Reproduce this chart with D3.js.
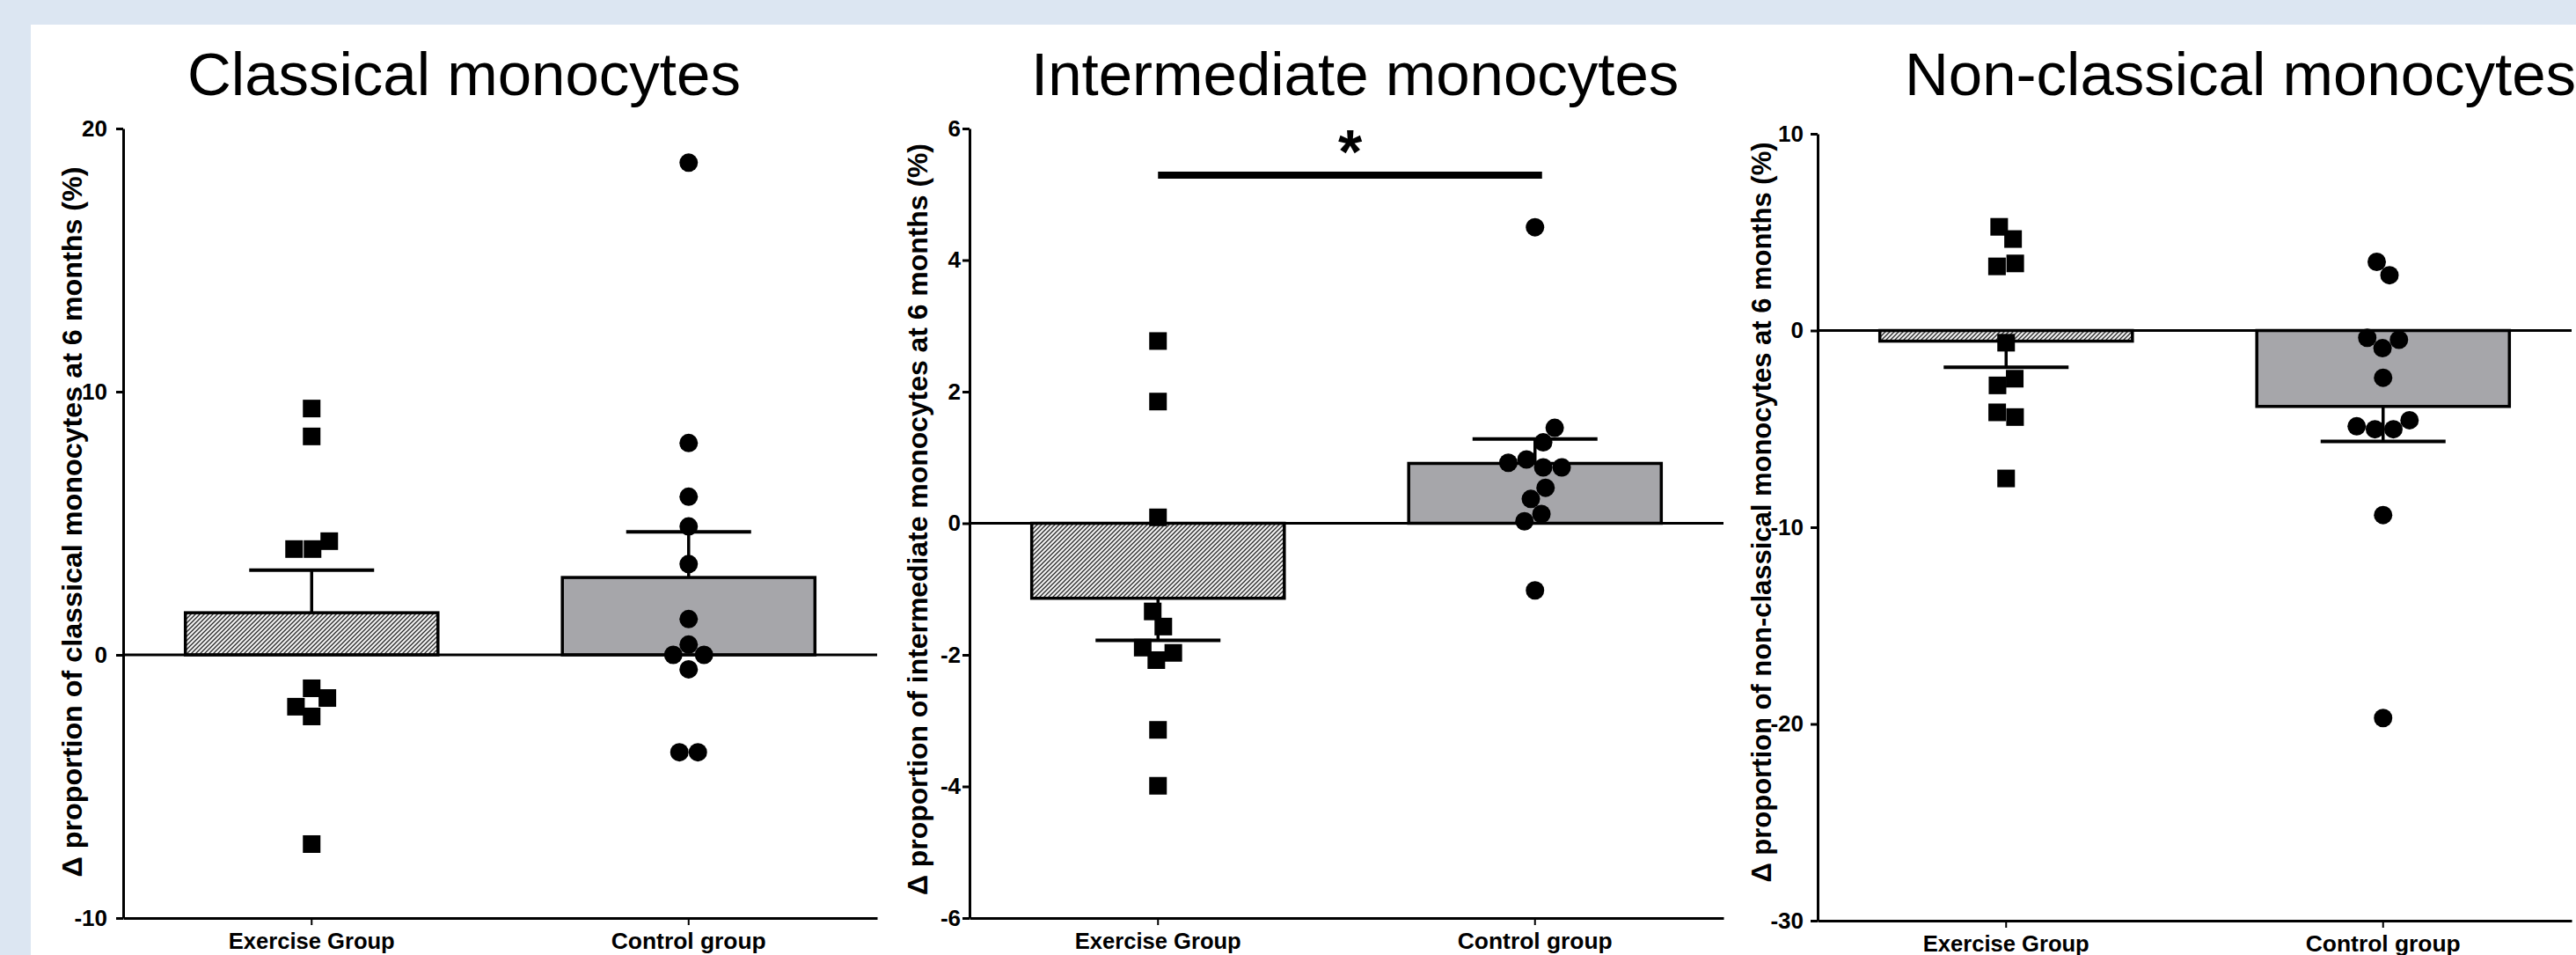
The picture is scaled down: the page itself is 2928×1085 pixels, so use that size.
<!DOCTYPE html>
<html><head><meta charset="utf-8">
<script src="https://cdn.jsdelivr.net/npm/d3@7"></script>
<style>html,body{margin:0;padding:0;background:#dce6f2;overflow:hidden} svg{display:block}</style>
</head><body>
<svg id="chart" width="2928" height="1085"></svg>
<script>
// ---------------- data ----------------
const categories = ["Exercise Group", "Control group"];
const panelTitles = ["Classical monocytes", "Intermediate monocytes", "Non-classical monocytes"];
const yAxisTitles = [
  "Δ proportion of classical monocytes at 6 months (%)",
  "Δ proportion of intermediate monocytes at 6 months (%)",
  "Δ proportion of non-classical monocytes at 6 months (%)"
];
const classicalTicks = [20, 10, 0, -10];
const intermediateTicks = [6, 4, 2, 0, -2, -4, -6];
const nonClassicalTicks = [10, 0, -10, -20, -30];

const classicalExercise = [9.36, 8.30, 4.02, 4.32, 4.02, -1.27, -2.34, -1.64, -1.97, -7.19];
const classicalControl = [18.7, 8.05, 6.01, 4.88, 3.45, 1.36, 0.39, -0.55, 0, 0, -3.7, -3.7];
const intermediateExercise = [2.77, 1.85, 0.09, -1.34, -1.57, -2.08, -1.97, -1.89, -3.14, -3.99];
const intermediateControl = [4.5, 0.85, 0.85, 0.97, 0.92, 1.23, 1.45, 0.37, 0.54, 0.14, 0.03, -1.02];
const nonClassicalExercise = [5.27, 4.65, 3.26, 3.41, -0.62, -2.79, -2.45, -4.16, -4.40, -7.52];
const nonClassicalControl = [3.49, 2.81, -0.90, -0.47, -0.37, -2.40, -5.02, -5.02, -4.87, -4.56, -9.38, -19.7];

const classicalMeans = [1.6, 2.94];
const classicalSem = [1.62, 1.73];
const intermediateMeans = [-1.14, 0.91];
const intermediateSem = [0.64, 0.37];
const nonClassicalMeans = [-0.54, -3.86];
const nonClassicalSem = [1.33, 1.78];

const significanceLevel = 5.29;   // y value of the comparison bar (intermediate panel)
const significanceLabel = "*";

// ---------------- layout ----------------
const W = 2928, H = 1085;
const panels = [
  {title: panelTitles[0], ylabel: yAxisTitles[0], ticks: classicalTicks, domain: [-10, 20],
   groups: [classicalExercise, classicalControl], means: classicalMeans, sem: classicalSem,
   x0: 140, top: 146, bottom: 1043, titleX: 213, labX: 93, labY: 593, labLen: 807, tickGap: 18},
  {title: panelTitles[1], ylabel: yAxisTitles[1], ticks: intermediateTicks, domain: [-6, 6],
   groups: [intermediateExercise, intermediateControl], means: intermediateMeans, sem: intermediateSem,
   x0: 1102, top: 146, bottom: 1043, titleX: 1172, labX: 1054, labY: 590, labLen: 854, tickGap: 10, sig: true},
  {title: panelTitles[2], ylabel: yAxisTitles[2], ticks: nonClassicalTicks, domain: [-30, 10],
   groups: [nonClassicalExercise, nonClassicalControl], means: nonClassicalMeans, sem: nonClassicalSem,
   x0: 2066, top: 152, bottom: 1046, titleX: 2165, labX: 2013, labY: 582, labLen: 841, tickGap: 16}
];
const plotW = 857;
const MARK = 20, D = 21;
const narrow = "'Liberation Sans Narrow','Arial Narrow','Liberation Sans',Arial,sans-serif";
const sans = "'Liberation Sans',Arial,sans-serif";

const svg = d3.select("#chart");
const defs = svg.append("defs");
const pat = defs.append("pattern").attr("id", "hatch").attr("patternUnits", "userSpaceOnUse")
  .attr("width", 5).attr("height", 5);
pat.append("rect").attr("width", 5).attr("height", 5).attr("fill", "#f2f2f2");
pat.append("path").attr("d", "M-1,1 l2,-2 M0,5 l5,-5 M4,6 l2,-2")
  .attr("stroke", "#2a2a2a").attr("stroke-width", 1.3);

svg.append("rect").attr("width", W).attr("height", H).attr("fill", "#dce6f2");
svg.append("rect").attr("x", 35).attr("y", 28).attr("width", W - 35).attr("height", H - 28).attr("fill", "#fff");

function swarm(values, y) {
  const placed = [];
  values.forEach(v => {
    const py = y(v);
    const near = placed.filter(p => Math.abs(p.y - py) < D);
    const cands = [0];
    near.forEach(p => {
      const dx = Math.sqrt(D * D - (p.y - py) ** 2);
      cands.push(p.x + dx, p.x - dx);
    });
    cands.sort((a, b) => (Math.abs(a) - Math.abs(b)) || (b - a));
    const x = cands.find(c => near.every(p => (p.x - c) ** 2 + (p.y - py) ** 2 >= D * D - 0.01));
    placed.push({v, y: py, x});
  });
  const sorted = placed.slice().sort((a, b) => a.y - b.y);
  const clusters = [];
  let cl = [];
  sorted.forEach((p, i) => {
    if (i > 0 && p.y - sorted[i - 1].y >= D) { clusters.push(cl); cl = []; }
    cl.push(p);
  });
  clusters.push(cl);
  clusters.forEach(c => {
    const s = (d3.min(c, p => p.x) + d3.max(c, p => p.x)) / 2;
    c.forEach(p => p.x -= s);
  });
  return placed;
}

panels.forEach((P, pi) => {
  const g = svg.append("g");
  const x = d3.scaleBand().domain(categories).range([P.x0, P.x0 + plotW])
    .paddingInner(0.33).paddingOuter(0.165);
  const y = d3.scaleLinear().domain(P.domain).range([P.bottom, P.top]);
  const cx = c => x(c) + x.bandwidth() / 2;

  // title
  g.append("text").attr("x", P.titleX).attr("y", 108).text(P.title)
    .attr("font-family", sans).attr("font-size", 69).attr("fill", "#000");

  // y-axis title
  g.append("text").attr("transform", `translate(${P.labX},${P.labY}) rotate(-90)`)
    .attr("text-anchor", "middle").attr("font-family", sans).attr("font-weight", "bold")
    .attr("font-size", 31).attr("textLength", P.labLen).attr("lengthAdjust", "spacingAndGlyphs")
    .attr("fill", "#000").text(P.ylabel);

  // bars
  categories.forEach((c, i) => {
    const m = P.means[i];
    g.append("rect").attr("x", x(c)).attr("width", x.bandwidth())
      .attr("y", y(Math.max(0, m))).attr("height", Math.abs(y(m) - y(0)))
      .attr("fill", i === 0 ? "url(#hatch)" : "#a6a6aa")
      .attr("stroke", "#000").attr("stroke-width", 3.5);
  });

  // zero line
  g.append("line").attr("x1", P.x0).attr("x2", P.x0 + plotW).attr("y1", y(0)).attr("y2", y(0))
    .attr("stroke", "#000").attr("stroke-width", 3.2);

  // error bars (one-sided, away from zero)
  categories.forEach((c, i) => {
    const m = P.means[i], e = m >= 0 ? m + P.sem[i] : m - P.sem[i];
    const xc = cx(c);
    g.append("line").attr("x1", xc).attr("x2", xc).attr("y1", y(m)).attr("y2", y(e))
      .attr("stroke", "#000").attr("stroke-width", 3.5);
    g.append("line").attr("x1", xc - 71).attr("x2", xc + 71).attr("y1", y(e)).attr("y2", y(e))
      .attr("stroke", "#000").attr("stroke-width", 4);
  });

  // points
  categories.forEach((c, i) => {
    const pts = swarm(P.groups[i], y);
    const xc = cx(c);
    if (i === 0) {
      g.selectAll(null).data(pts).enter().append("rect")
        .attr("x", d => xc + d.x - MARK / 2).attr("y", d => d.y - MARK / 2)
        .attr("width", MARK).attr("height", MARK).attr("fill", "#000");
    } else {
      g.selectAll(null).data(pts).enter().append("circle")
        .attr("cx", d => xc + d.x).attr("cy", d => d.y).attr("r", MARK / 2 + 0.5).attr("fill", "#000");
    }
  });

  // y axis
  const ya = g.append("g").attr("transform", `translate(${P.x0},0)`)
    .call(d3.axisLeft(y).tickValues(P.ticks).tickSize(8).tickSizeOuter(0)
      .tickPadding(P.tickGap - 8).tickFormat(d => String(d)));
  ya.select(".domain").attr("stroke", "#000").attr("stroke-width", 3);
  ya.selectAll(".tick line").attr("stroke", "#000").attr("stroke-width", 3);
  ya.selectAll(".tick text").attr("font-family", narrow).attr("font-weight", "bold")
    .attr("font-size", 26).attr("fill", "#000");

  // x axis
  const xa = g.append("g").attr("transform", `translate(0,${P.bottom})`)
    .call(d3.axisBottom(x).tickSize(8).tickSizeOuter(0).tickPadding(9));
  xa.select(".domain").attr("stroke", "#000").attr("stroke-width", 3);
  xa.selectAll(".tick line").attr("stroke", "#000").attr("stroke-width", 2);
  xa.selectAll(".tick text").attr("font-family", narrow).attr("font-weight", "bold")
    .attr("font-size", 25).attr("fill", "#000")
    .attr("textLength", (d, i) => i === 0 ? 189 : 176).attr("lengthAdjust", "spacingAndGlyphs");

  // significance
  if (P.sig) {
    const sy = y(significanceLevel);
    const xa1 = cx(categories[0]), xb1 = cx(categories[1]);
    g.append("line").attr("x1", xa1).attr("x2", xb1 + 8).attr("y1", sy).attr("y2", sy)
      .attr("stroke", "#000").attr("stroke-width", 8);
    g.append("text").attr("x", (xa1 + xb1 + 8) / 2).attr("y", 197).attr("text-anchor", "middle")
      .attr("font-family", sans).attr("font-weight", "bold").attr("font-size", 70)
      .attr("fill", "#000").text(significanceLabel);
  }
});
</script>
</body></html>
